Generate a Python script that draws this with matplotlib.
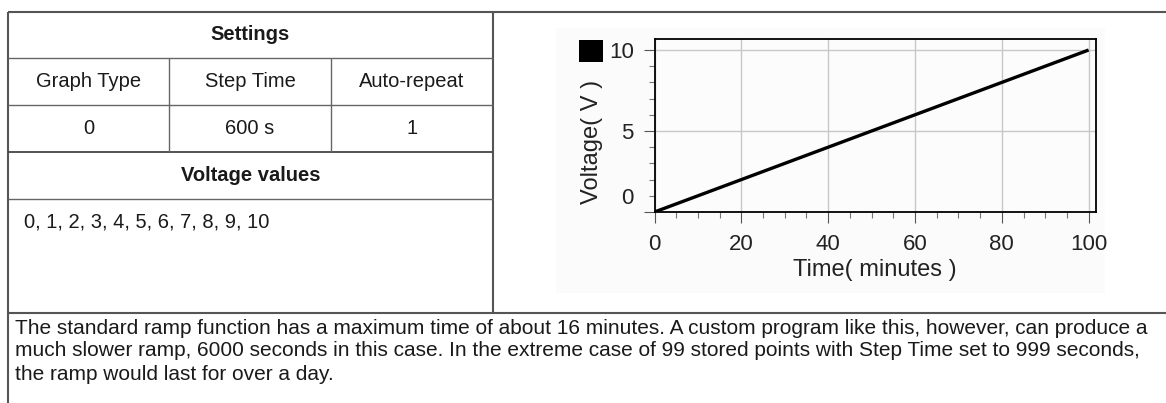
import matplotlib
matplotlib.use("Agg")
import matplotlib.pyplot as plt
from matplotlib.patches import Rectangle
from matplotlib.transforms import ScaledTranslation
from matplotlib.ticker import MultipleLocator

# ---------------- data ----------------
settings_title = "Settings"
settings_headers = ["Graph Type", "Step Time", "Auto-repeat"]
settings_values = ["0", "600 s", "1"]
values_title = "Voltage values"
voltage_values = [0, 1, 2, 3, 4, 5, 6, 7, 8, 9, 10]
time_minutes = [0, 10, 20, 30, 40, 50, 60, 70, 80, 90, 100]
x_ticks = [0, 20, 40, 60, 80, 100]
y_ticks = [0, 5, 10]
x_label = "Time( minutes )"
y_label = "Voltage( V )"
paragraph = [
    "The standard ramp function has a maximum time of about 16 minutes. A custom program like this, however, can produce a",
    "much slower ramp, 6000 seconds in this case. In the extreme case of 99 stored points with Step Time set to 999 seconds,",
    "the ramp would last for over a day.",
]

W, H = 1166, 403
FONT = "Liberation Sans"
plt.rcParams["font.family"] = [FONT, "DejaVu Sans"]

fig = plt.figure(figsize=(W / 100, H / 100), dpi=100)
fig.patch.set_facecolor("white")

# background axes in pixel coordinates (y downwards)
bg = fig.add_axes([0, 0, 1, 1])
bg.set_xlim(0, W)
bg.set_ylim(H, 0)
bg.axis("off")

# layout constants (pixels)
L, R = 8, W
TOP, MID_X, BOT = 12, 493, 313
rows = [12, 58, 105, 152, 199]
cols = [8, 169, 331, 493]
line_c = "#555555"

# faint chart image background
bg.add_patch(Rectangle((556, 28), 549, 265, facecolor="#fbfbfb", edgecolor="none", zorder=0))

# outer frame lines
bg.plot([L, R], [TOP, TOP], color=line_c, lw=1.5, solid_capstyle="butt")
bg.plot([L, R], [BOT, BOT], color=line_c, lw=1.5, solid_capstyle="butt")
bg.plot([L, L], [TOP, H], color=line_c, lw=1.5, solid_capstyle="butt")
bg.plot([MID_X, MID_X], [TOP, BOT], color=line_c, lw=1.5, solid_capstyle="butt")
# inner table rows
for yy in rows[1:]:
    lw = 1.3 if yy == 152 else 1.0
    c = "#444444" if yy == 152 else "#666666"
    bg.plot([L, MID_X], [yy, yy], color=c, lw=lw, solid_capstyle="butt")
for xx in cols[1:3]:
    bg.plot([xx, xx], [rows[1], rows[3]], color="#666666", lw=1.0, solid_capstyle="butt")

tc = "#1a1a1a"
fs = 14.5
bg.text((L + MID_X) / 2, (rows[0] + rows[1]) / 2, settings_title, ha="center", va="center",
        fontsize=fs, fontweight="bold", color=tc)
for i, (h, v) in enumerate(zip(settings_headers, settings_values)):
    cx = (cols[i] + cols[i + 1]) / 2
    bg.text(cx, (rows[1] + rows[2]) / 2, h, ha="center", va="center", fontsize=fs, color=tc)
    bg.text(cx, (rows[2] + rows[3]) / 2, v, ha="center", va="center", fontsize=fs, color=tc)
bg.text((L + MID_X) / 2, (rows[3] + rows[4]) / 2, values_title, ha="center", va="center",
        fontsize=fs, fontweight="bold", color=tc)
bg.text(24, 222, ", ".join(str(v) for v in voltage_values), ha="left", va="center",
        fontsize=fs, color=tc)

for i, line in enumerate(paragraph):
    bg.text(15, 328 + 23 * i, line, ha="left", va="center", fontsize=15.0, color=tc)

# legend square
bg.add_patch(Rectangle((579, 40), 24, 22, facecolor="black", edgecolor="none"))

# ---------------- chart ----------------
ax_l, ax_r, ax_t, ax_b = 654.5, 1096, 39, 212
ax = fig.add_axes([ax_l / W, (H - ax_b) / H, (ax_r - ax_l) / W, (ax_b - ax_t) / H])
ax.set_facecolor("#fcfcfc")
ax.plot(time_minutes, voltage_values, color="black", lw=2.4, solid_capstyle="butt", zorder=3)
ax.set_xlim(0, 101.7)
ax.set_ylim(0, 10.68)
ax.set_xticks(x_ticks)
ax.set_yticks(y_ticks)
ax.xaxis.set_minor_locator(MultipleLocator(5))
ax.yaxis.set_minor_locator(MultipleLocator(1))
ax.grid(True, which="major", color="#c8c8c8", lw=1.0, zorder=0)
ax.set_axisbelow(True)
for s in ax.spines.values():
    s.set_color("black")
    s.set_linewidth(1.3)
ax.tick_params(which="major", direction="out", length=8, width=0.8, color="#555555",
               labelsize=16, labelcolor="#222222", pad=7)
ax.tick_params(which="minor", direction="out", length=4.5, width=0.8, color="#777777")
ax.tick_params(axis="x", which="major", pad=8)
for lab in ax.get_xticklabels() + ax.get_yticklabels():
    lab.set_fontfamily(FONT)

fig.canvas.draw()
# quirk of the original: the "0" voltage label sits one unit above its tick
ylabs = ax.get_yticklabels()
ylabs[0].set_transform(ylabs[0].get_transform() + ScaledTranslation(0, 0.16, fig.dpi_scale_trans))

fig.text(875 / W, 1 - 270 / H, x_label, ha="center", va="center", fontsize=17, color="#222222")
fig.text(592 / W, 1 - 142 / H, y_label, ha="center", va="center", rotation=90, fontsize=17,
         color="#222222")

fig.savefig("out.png", dpi=100)
